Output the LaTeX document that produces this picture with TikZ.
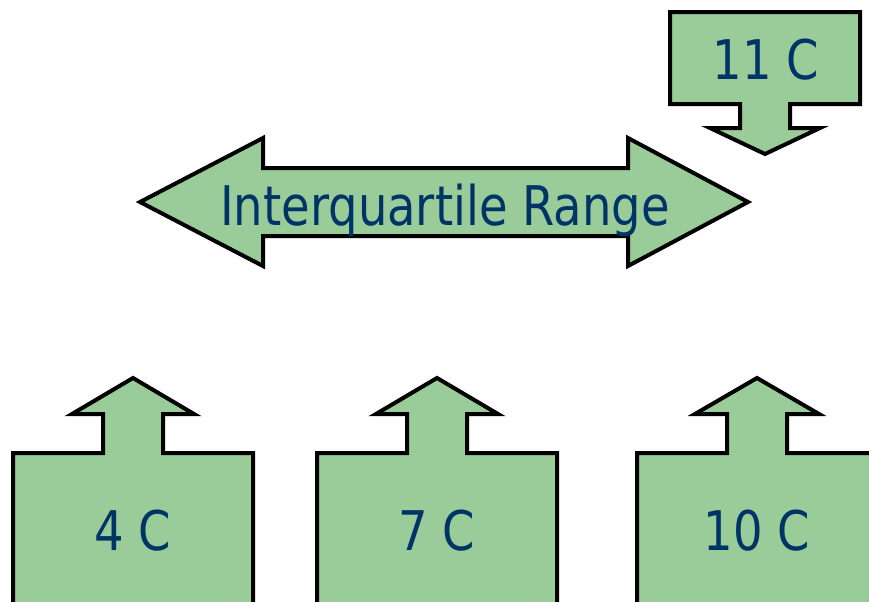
\documentclass[tikz,border=0pt]{standalone}
\usepackage{fontspec}
\setmainfont{DejaVu Sans}[FakeStretch=0.85]
\usepackage{tikz}

\definecolor{boxgreen}{HTML}{99CC99}
\definecolor{labelblue}{HTML}{003366}

\tikzset{
  callout/.style={draw=black, line width=3pt, fill=boxgreen, line join=miter},
  tempnode/.style={anchor=base, text=labelblue, inner sep=0pt, font=\fontsize{41}{49}\selectfont}
}

\begin{document}
\begin{tikzpicture}[x=0.75pt, y=-0.75pt]

\clip (0,0) rectangle (869,601);

% callout shapes
\draw[callout] (670,12) -- (860,12) -- (860,104) -- (790,104) -- (790,128) -- (820,128) -- (765,154) -- (710,128) -- (740,128) -- (740,104) -- (670,104) -- cycle;

\draw[callout] (140,202) -- (263,138) -- (263,168) -- (628,168) -- (628,138) -- (748,202) -- (628,266) -- (628,236) -- (263,236) -- (263,266) -- cycle;

\draw[callout] (13,615) -- (13,453) -- (103,453) -- (103,414) -- (72,414) -- (133,378) -- (194,414) -- (163,414) -- (163,453) -- (253,453) -- (253,615) -- cycle;
\draw[callout] (317,615) -- (317,453) -- (407,453) -- (407,414) -- (376,414) -- (437,378) -- (498,414) -- (467,414) -- (467,453) -- (557,453) -- (557,615) -- cycle;
\draw[callout] (637,615) -- (637,453) -- (727,453) -- (727,414) -- (695,414) -- (757,378) -- (819,414) -- (787,414) -- (787,453) -- (877,453) -- (877,615) -- cycle;

% labels
\node (high) at (766,79)  [tempnode] {11 C};
\node (iqr)  at (445,225) [tempnode] {Interquartile Range};
\node (low)  at (133,550) [tempnode] {4 C};
\node (mid)  at (437,550) [tempnode] {7 C};
\node (upq)  at (757,550) [tempnode] {10 C};

\end{tikzpicture}
\end{document}
